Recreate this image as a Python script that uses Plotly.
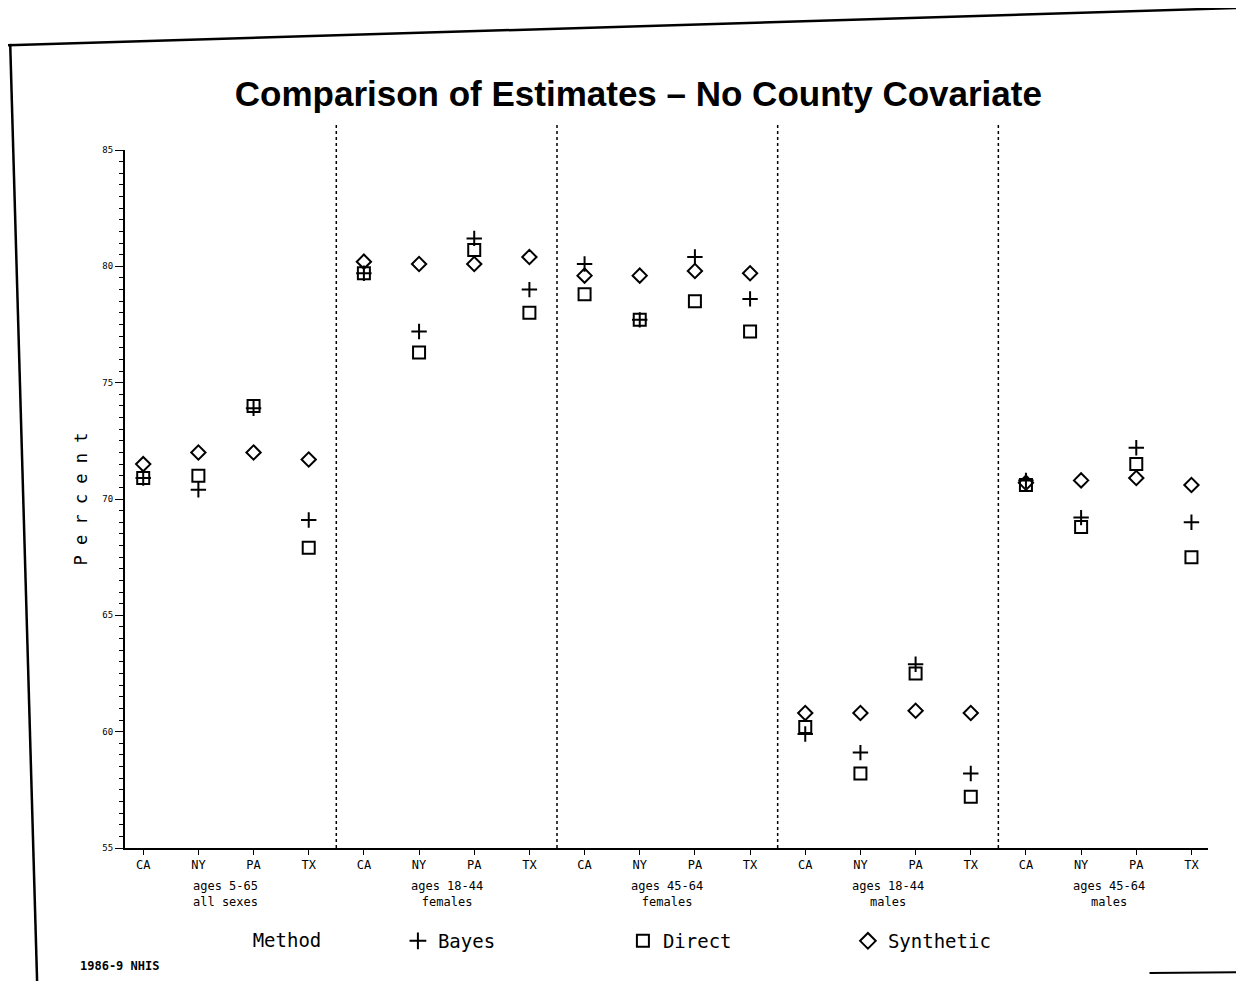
import plotly.graph_objects as go

states = ["CA", "NY", "PA", "TX"]
groups = ["ages 5-65<br>all sexes", "ages 18-44<br>females", "ages 45-64<br>females",
          "ages 18-44<br>males", "ages 45-64<br>males"]
categories = [f"{g.split('<br>')[0]} {g.split('<br>')[1]} {s}" for g in groups for s in states]
tick_labels = states * len(groups)

bayes = [70.9, 70.4, 73.9, 69.1,
         79.7, 77.2, 81.2, 79.0,
         80.1, 77.7, 80.4, 78.6,
         59.9, 59.1, 62.9, 58.2,
         70.8, 69.2, 72.2, 69.0]
direct = [70.9, 71.0, 74.0, 67.9,
          79.7, 76.3, 80.7, 78.0,
          78.8, 77.7, 78.5, 77.2,
          60.2, 58.2, 62.5, 57.2,
          70.6, 68.8, 71.5, 67.5]
synthetic = [71.5, 72.0, 72.0, 71.7,
             80.2, 80.1, 80.1, 80.4,
             79.6, 79.6, 79.8, 79.7,
             60.8, 60.8, 60.9, 60.8,
             70.7, 70.8, 70.9, 70.6]

xs = list(range(len(categories)))
mono = "DejaVu Sans Mono"

fig = go.Figure()
series = [("Bayes", bayes, "cross-thin-open", 11),
          ("Direct", direct, "square-open", 12),
          ("Synthetic", synthetic, "diamond-open", 11)]
for name, vals, sym, size in series:
    fig.add_trace(go.Scatter(
        x=xs, y=vals, mode="markers", name=name,
        text=categories,
        marker=dict(symbol=sym, size=size, color="black", line=dict(width=2, color="black")),
    ))

for i in range(1, len(groups)):
    xv = i * len(states) - 0.5
    fig.add_shape(type="line", xref="x", yref="paper", x0=xv, x1=xv, y0=0, y1=1.04,
                  line=dict(color="black", width=1.5, dash="dot"))

for gi, g in enumerate(groups):
    fig.add_annotation(x=gi * len(states) + 1.5, xref="x", y=-0.041, yref="paper",
                       text=g, showarrow=False, yanchor="top",
                       font=dict(family=mono, size=12, color="black"))

# page border from the scan
fig.add_shape(type="line", xref="paper", yref="paper", x0=-0.108, y0=1.150, x1=1.04, y1=1.204,
              line=dict(color="black", width=2.5))
fig.add_shape(type="line", xref="paper", yref="paper", x0=-0.106, y0=1.152, x1=-0.081, y1=-0.2,
              line=dict(color="black", width=2.5))
fig.add_shape(type="line", xref="paper", yref="paper", x0=0.946, y0=-0.179, x1=1.04, y1=-0.178,
              line=dict(color="black", width=2))

fig.add_annotation(x=-0.043, xref="paper", y=-0.169, yref="paper", yanchor="middle",
                   text="<b>1986-9 NHIS</b>", showarrow=False, xanchor="left",
                   font=dict(family=mono, size=12, color="black"))

fig.update_layout(
    width=1236, height=973,
    paper_bgcolor="white", plot_bgcolor="white",
    margin=dict(l=117, r=36, t=142, b=133),
    title=dict(text="Comparison of Estimates \u2013 No County Covariate",
               x=0.51, xanchor="center", y=0.912, yanchor="middle",
               font=dict(family="Liberation Sans, Arial", size=35, color="black", weight="bold")),
    showlegend=True,
    legend=dict(orientation="h", x=0.116, xanchor="left", y=-0.106, yanchor="top",
                title=dict(text="Method      ", font=dict(family=mono, size=19, color="black")),
                font=dict(family=mono, size=19, color="black"),
                entrywidth=180, entrywidthmode="pixels", itemsizing="constant"),
    xaxis=dict(range=[-0.33, 19.3], tickvals=xs, ticktext=tick_labels,
               showline=True, linecolor="black", linewidth=2, mirror=False,
               ticks="outside", ticklen=5, tickcolor="black", showgrid=False, zeroline=False,
               tickfont=dict(family=mono, size=12, color="black")),
    yaxis=dict(range=[55, 85], tickvals=[55, 60, 65, 70, 75, 80, 85],
               showline=True, linecolor="black", linewidth=2,
               ticks="outside", ticklen=8, tickcolor="black",
               minor=dict(dtick=0.5, ticks="outside", ticklen=4, tickcolor="black"),
               showgrid=False, zeroline=False,
               tickfont=dict(family=mono, size=9, color="black"),
               title=dict(text="P e r c e n t", standoff=10,
                          font=dict(family=mono, size=17, color="black"))),
)

fig.write_html("out.html")
